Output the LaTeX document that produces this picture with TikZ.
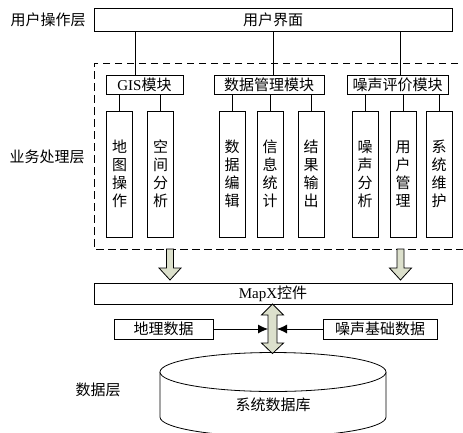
\documentclass[tikz,border=0pt]{standalone}
\usepackage{fontspec}
\setmainfont{Liberation Serif}
\newfontfamily\cjk{Noto Sans CJK SC}
\usetikzlibrary{arrows.meta}
\definecolor{arrowfill}{HTML}{DCE0CC}
\begin{document}
\begin{tikzpicture}[x=1pt,y=-1pt,
  every node/.style={font=\cjk\fontsize{15}{18}\selectfont, inner sep=0pt},
  box/.style={draw, line width=0.8pt, fill=white},
  subbox/.style={box, minimum width=26pt, minimum height=126pt, align=center},
  line/.style={line width=0.8pt},
  blockarrow/.style={draw, line width=0.8pt, fill=arrowfill, line join=miter},
  lbl/.style={}]
\useasboundingbox (0,0) rectangle (463,432);
% layer labels
\node[lbl] (l1) at (48,19.5) {用户操作层};
\node[lbl] (l2) at (47,157) {业务处理层};
\node[lbl] (l3) at (98,390) {数据层};
% dashed region
\draw[line, dash pattern=on 7.5pt off 4.5pt] (470,63) -- (94,63) -- (94,249) -- (470,249);
% user interface
\node[box, minimum width=358pt, minimum height=23pt] (ui) at (273,19.5) {用户界面};
% modules
\node[box, minimum width=77pt, minimum height=19pt] (gis) at (144.5,84.5) {{\rmfamily GIS}模块};
\node[box, minimum width=110pt, minimum height=19pt] (dm) at (269,84.5) {数据管理模块};
\node[box, minimum width=101pt, minimum height=19pt] (nz) at (397.5,84.5) {噪声评价模块};
% sub boxes
\node[subbox] (s1) at (119.5,174) {地\\图\\操\\作};
\node[subbox] (s2) at (160.5,174) {空\\间\\分\\析};
\node[subbox] (s3) at (232,174) {数\\据\\编\\辑};
\node[subbox] (s4) at (270,174) {信\\息\\统\\计};
\node[subbox] (s5) at (311,174) {结\\果\\输\\出};
\node[subbox] (s6) at (365,174) {噪\\声\\分\\析};
\node[subbox] (s7) at (403,174) {用\\户\\管\\理};
\node[subbox] (s8) at (439,174) {系\\统\\维\\护};
% ui to modules
\draw[line] ([xshift=-9.5pt]gis.north) -- ([xshift=-9.5pt]gis.north |- ui.south);
\draw[line] ([xshift=4pt]dm.north) -- ([xshift=4pt]dm.north |- ui.south);
\draw[line] ([xshift=2.5pt]nz.north) -- ([xshift=2.5pt]nz.north |- ui.south);
% modules to sub boxes
\foreach \s/\m in {s1/gis,s2/gis,s3/dm,s4/dm,s5/dm,s6/nz,s7/nz,s8/nz}
  \draw[line] (\s.north) -- (\s.north |- \m.south);
% MapX
\node[box, minimum width=358pt, minimum height=21pt] (mapx) at (273,293.5) {{\rmfamily MapX}控件};
% block arrows
\draw[blockarrow] (166.5,249) -- (173.5,249) -- (173.5,268) -- (181,268) -- (170,280) -- (159,268) -- (166.5,268) -- cycle;
\draw[blockarrow] (397,249) -- (404,249) -- (404,268) -- (411.5,268) -- (400.5,280) -- (389.5,268) -- (397,268) -- cycle;
% data boxes
\node[box, minimum width=99pt, minimum height=20pt] (geo) at (163.5,329) {地理数据};
\node[box, minimum width=114pt, minimum height=20pt] (noise) at (380,329) {噪声基础数据};
% cylinder
\draw[line, fill=white] (160,372) -- (160,417) arc[start angle=180, end angle=360, x radius=113, y radius=-19.5] -- (386,372);
\draw[line, fill=white] (273,372) ellipse[x radius=113, y radius=19.5];
\node (db) at (273,405) {系统数据库};
% double arrow
\draw[blockarrow] (272.5,304) -- (283.5,315) -- (277,315) -- (277,343) -- (283.5,343) -- (272.5,353.5) -- (261.5,343) -- (268,343) -- (268,315) -- (261.5,315) -- cycle;
\coordinate (dl) at (268,329);
\coordinate (dr) at (277,329);
\draw[line, -{Latex[length=10pt,width=9pt]}] (geo.east) -- (dl);
\draw[line, -{Latex[length=10pt,width=9pt]}] (noise.west) -- (dr);
\end{tikzpicture}
\end{document}
